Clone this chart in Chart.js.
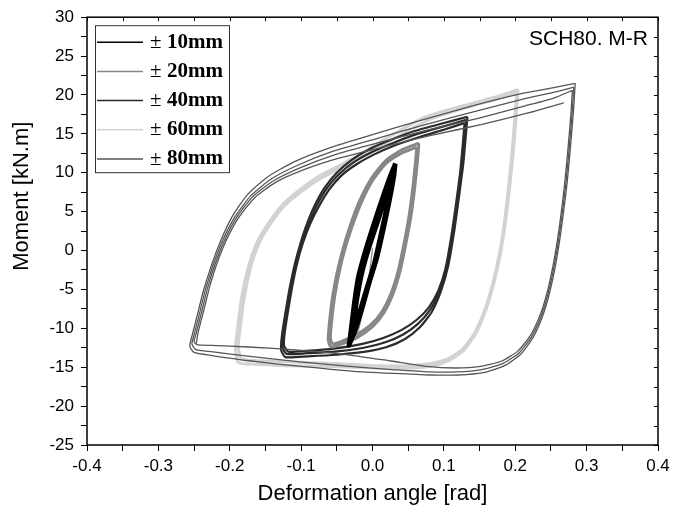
<!DOCTYPE html>
<html>
<head>
<meta charset="utf-8">
<script src="https://cdn.jsdelivr.net/npm/chart.js@4.4.1/dist/chart.umd.min.js"></script>
<style>
  html, body { margin: 0; padding: 0; background: #fff; }
  #wrap { width: 683px; height: 518px; }
</style>
</head>
<body>
<div id="wrap"><canvas id="chart" width="683" height="518"></canvas></div>
<script>
// Hysteresis loops, SCH80 moment vs rotation
const chartTitle = "SCH80. M-R";
const xTitle = "Deformation angle [rad]";
const yTitle = "Moment [kN.m]";
const amplitudes = ["10mm", "20mm", "40mm", "60mm", "80mm"];

// ±10mm (3 cycles) [rad, kN.m]
const c10a = [[0.032,11.2],[0.030,9.5],[0.024,6.5],[0.016,3.0],[0.006,-1.0],[-0.004,-4.0],[-0.014,-7.3],[-0.024,-10.2],[-0.031,-11.8],[-0.033,-12.2],[-0.031,-10.8],[-0.026,-7.0],[-0.020,-3.4],[-0.010,0.0],[0.002,3.5],[0.014,6.8],[0.024,9.4],[0.032,11.2]];
const c10b = [[0.030,10.6],[0.028,9.0],[0.022,6.0],[0.014,2.6],[0.004,-1.4],[-0.006,-4.4],[-0.016,-7.6],[-0.025,-10.4],[-0.031,-11.6],[-0.032,-11.9],[-0.029,-10.4],[-0.024,-6.7],[-0.017,-3.0],[-0.007,0.3],[0.005,3.7],[0.016,6.8],[0.025,9.2],[0.030,10.6]];
const c10c = [[0.028,10.0],[0.026,8.5],[0.020,5.6],[0.012,2.2],[0.002,-1.8],[-0.008,-4.8],[-0.018,-7.9],[-0.026,-10.5],[-0.030,-11.3],[-0.031,-11.5],[-0.027,-10.0],[-0.022,-6.4],[-0.014,-2.6],[-0.004,0.6],[0.008,3.9],[0.018,6.8],[0.025,8.8],[0.028,10.0]];

// ±20mm (first push + 2 cycles)
const c20start = [[0.000,0.3],[-0.005,-3.5],[-0.012,-7.0],[-0.020,-10.3],[-0.030,-11.6]];
const c20a = [[0.065,13.8],[0.063,11.5],[0.059,8.0],[0.054,4.5],[0.047,1.0],[0.039,-2.5],[0.029,-5.5],[0.016,-8.0],[0.000,-9.8],[-0.020,-11.1],[-0.040,-11.9],[-0.058,-12.4],[-0.062,-11.5],[-0.060,-9.0],[-0.056,-6.0],[-0.050,-3.0],[-0.042,0.0],[-0.032,3.0],[-0.019,6.2],[-0.002,9.2],[0.018,11.5],[0.040,12.9],[0.065,13.8]];
const c20b = [[0.062,13.3],[0.060,11.1],[0.056,7.7],[0.051,4.3],[0.044,0.8],[0.036,-2.6],[0.026,-5.5],[0.013,-7.9],[-0.003,-9.6],[-0.022,-10.8],[-0.041,-11.6],[-0.056,-12.0],[-0.059,-11.2],[-0.057,-8.8],[-0.053,-5.9],[-0.047,-2.9],[-0.039,0.1],[-0.029,3.0],[-0.016,6.1],[0.000,9.0],[0.019,11.2],[0.040,12.5],[0.062,13.3]];

// ±40mm (3 cycles)
const c40a = [[0.133,17.2],[0.131,15.0],[0.127,11.0],[0.121,6.8],[0.114,2.2],[0.106,-2.0],[0.096,-5.2],[0.083,-7.9],[0.066,-9.9],[0.045,-11.4],[0.020,-12.4],[-0.010,-13.0],[-0.050,-13.4],[-0.090,-13.6],[-0.122,-13.7],[-0.128,-12.8],[-0.127,-11.0],[-0.122,-8.0],[-0.116,-4.8],[-0.109,-1.8],[-0.101,0.9],[-0.092,3.4],[-0.081,5.8],[-0.067,8.1],[-0.050,10.0],[-0.030,11.6],[-0.005,13.0],[0.025,14.2],[0.060,15.4],[0.100,16.4],[0.133,17.2]];
const c40b = [[0.131,16.8],[0.129,14.6],[0.125,10.6],[0.119,6.4],[0.112,1.9],[0.104,-2.2],[0.094,-5.2],[0.081,-7.6],[0.064,-9.4],[0.043,-10.8],[0.018,-11.8],[-0.012,-12.5],[-0.052,-13.0],[-0.092,-13.2],[-0.120,-13.3],[-0.126,-12.5],[-0.125,-10.8],[-0.120,-7.8],[-0.114,-4.6],[-0.107,-1.6],[-0.099,1.0],[-0.089,3.5],[-0.078,5.8],[-0.064,8.0],[-0.047,9.8],[-0.027,11.3],[-0.002,12.6],[0.028,13.8],[0.063,15.0],[0.101,16.0],[0.131,16.8]];
const c40c = [[0.129,16.4],[0.127,14.2],[0.123,10.2],[0.117,6.0],[0.110,1.6],[0.102,-2.4],[0.092,-5.2],[0.079,-7.3],[0.062,-8.9],[0.041,-10.2],[0.016,-11.2],[-0.014,-12.0],[-0.054,-12.6],[-0.094,-12.9],[-0.118,-13.0],[-0.124,-12.2],[-0.123,-10.6],[-0.118,-7.6],[-0.112,-4.4],[-0.105,-1.4],[-0.097,1.1],[-0.087,3.5],[-0.075,5.7],[-0.061,7.8],[-0.044,9.6],[-0.024,11.0],[0.001,12.3],[0.031,13.5],[0.066,14.6],[0.102,15.6],[0.129,16.4]];

// ±60mm (2 cycles)
const c60a = [[0.204,20.7],[0.201,17.0],[0.197,12.5],[0.192,8.0],[0.186,3.5],[0.179,-0.5],[0.170,-4.2],[0.159,-7.6],[0.145,-10.6],[0.128,-12.8],[0.108,-14.1],[0.085,-14.8],[0.055,-15.1],[0.010,-15.1],[-0.060,-14.9],[-0.120,-14.8],[-0.170,-14.6],[-0.188,-14.4],[-0.192,-12.5],[-0.189,-10.0],[-0.185,-7.0],[-0.179,-4.0],[-0.171,-1.2],[-0.161,1.2],[-0.148,3.2],[-0.128,5.7],[-0.105,7.6],[-0.078,9.4],[-0.045,11.0],[-0.010,12.8],[0.030,15.0],[0.075,17.2],[0.130,18.7],[0.175,19.8],[0.204,20.7]];
const c60b = [[0.202,20.3],[0.199,16.6],[0.195,12.1],[0.190,7.6],[0.184,3.1],[0.177,-0.8],[0.168,-4.4],[0.157,-7.7],[0.143,-10.6],[0.126,-12.7],[0.106,-13.9],[0.083,-14.5],[0.053,-14.8],[0.008,-14.8],[-0.062,-14.5],[-0.122,-14.3],[-0.168,-14.1],[-0.184,-13.9],[-0.188,-12.2],[-0.185,-9.7],[-0.181,-6.8],[-0.175,-3.8],[-0.167,-1.0],[-0.157,1.3],[-0.144,3.3],[-0.124,5.7],[-0.101,7.5],[-0.074,9.2],[-0.041,10.8],[-0.006,12.5],[0.034,14.6],[0.079,16.8],[0.132,18.4],[0.176,19.5],[0.202,20.3]];

// ±80mm (3 cycles + last push)
const c80a = [[0.284,21.5],[0.282,18.5],[0.278,14.0],[0.273,9.0],[0.267,4.5],[0.260,0.0],[0.251,-4.3],[0.240,-8.0],[0.226,-11.0],[0.208,-13.3],[0.185,-14.8],[0.155,-15.7],[0.120,-16.0],[0.080,-16.0],[0.030,-15.8],[-0.030,-15.5],[-0.100,-14.9],[-0.170,-14.2],[-0.225,-13.5],[-0.250,-13.1],[-0.256,-12.3],[-0.253,-11.0],[-0.246,-8.5],[-0.237,-5.2],[-0.226,-2.0],[-0.213,1.2],[-0.197,4.3],[-0.176,7.1],[-0.148,9.4],[-0.110,11.4],[-0.060,13.2],[0.000,14.9],[0.070,16.8],[0.140,18.6],[0.210,20.2],[0.252,20.9],[0.284,21.5]];
const c80b = [[0.282,21.0],[0.280,18.0],[0.276,13.6],[0.271,8.7],[0.265,4.2],[0.258,-0.2],[0.249,-4.4],[0.238,-8.0],[0.224,-10.9],[0.206,-13.1],[0.183,-14.5],[0.153,-15.3],[0.118,-15.6],[0.078,-15.6],[0.028,-15.3],[-0.032,-14.9],[-0.102,-14.3],[-0.172,-13.6],[-0.226,-13.0],[-0.248,-12.7],[-0.253,-12.0],[-0.250,-10.8],[-0.243,-8.3],[-0.234,-5.0],[-0.223,-1.8],[-0.210,1.3],[-0.193,4.3],[-0.171,7.0],[-0.142,9.2],[-0.104,11.0],[-0.054,12.8],[0.006,14.4],[0.074,16.2],[0.144,17.9],[0.212,19.5],[0.252,20.3],[0.282,21.0]];
const c80c = [[0.280,20.6],[0.278,17.6],[0.274,13.2],[0.269,8.4],[0.263,3.9],[0.256,-0.4],[0.247,-4.5],[0.236,-8.0],[0.222,-10.8],[0.204,-12.9],[0.181,-14.2],[0.151,-14.9],[0.116,-15.1],[0.076,-14.9],[0.026,-14.2],[-0.034,-13.4],[-0.104,-12.8],[-0.174,-12.4],[-0.226,-12.2],[-0.246,-12.1],[-0.250,-11.7],[-0.247,-10.6],[-0.240,-8.1],[-0.231,-4.8],[-0.220,-1.6],[-0.207,1.4],[-0.190,4.3],[-0.168,6.9],[-0.138,9.0],[-0.100,10.7],[-0.050,12.4],[0.010,13.9],[0.078,15.5],[0.148,17.0],[0.214,18.6],[0.254,19.6],[0.280,20.6]];
const c80end = [[-0.247,-12.0],[-0.244,-10.4],[-0.237,-7.9],[-0.228,-4.6],[-0.217,-1.4],[-0.204,1.5],[-0.187,4.3],[-0.165,6.8],[-0.135,8.8],[-0.096,10.4],[-0.046,11.9],[0.014,13.3],[0.082,14.8],[0.152,16.2],[0.218,17.7],[0.268,19.0]];

const series = [
  { name: amplitudes[0], color: "#000000", width: 4.5, order: 1, cycles: [c10a, c10b, c10c] },
  { name: amplitudes[1], color: "#878787", width: 3,   order: 3, cycles: [c20a, c20b], thin: c20start },
  { name: amplitudes[2], color: "#2b2b2b", width: 2.2, order: 4, cycles: [c40a, c40b, c40c] },
  { name: amplitudes[3], color: "#d2d2d2", width: 3,   order: 5, cycles: [c60a, c60b] },
  { name: amplitudes[4], color: "#565656", width: 1.3, order: 2, cycles: [c80a, c80b, c80c, c80end] }
];

function makeSet(label, pts, color, width, order) {
  return {
    label,
    data: pts.map(p => ({ x: p[0], y: p[1] })),
    showLine: true,
    borderColor: color,
    borderWidth: width,
    pointRadius: 0,
    tension: 0.2,
    fill: false,
    order
  };
}

const datasets = [];
series.forEach(s => {
  s.cycles.forEach(c => datasets.push(makeSet("± " + s.name, c, s.color, s.width, s.order)));
  if (s.thin) datasets.push(makeSet("± " + s.name, s.thin, s.color, 1.2, s.order));
});

const FONT = '"Liberation Sans", Arial, sans-serif';

// frame, inward ticks on top/right, title, y title and the boxed legend
const decor = {
  id: "decor",
  afterDraw(chart) {
    const { ctx, chartArea: a, scales: { x, y } } = chart;
    ctx.save();
    ctx.strokeStyle = "#000";
    ctx.lineWidth = 1.5;
    ctx.strokeRect(a.left, a.top, a.right - a.left, a.bottom - a.top);

    ctx.lineWidth = 1;
    x.ticks.forEach(t => {
      const px = Math.round(x.getPixelForValue(t.value)) + 0.5;
      ctx.beginPath(); ctx.moveTo(px, a.top); ctx.lineTo(px, a.top + 4); ctx.stroke();
    });
    y.ticks.forEach(t => {
      const py = Math.round(y.getPixelForValue(t.value)) + 0.5;
      ctx.beginPath(); ctx.moveTo(a.right, py); ctx.lineTo(a.right - 4, py); ctx.stroke();
    });

    ctx.fillStyle = "#000";
    ctx.font = "21px " + FONT;
    ctx.textAlign = "right";
    ctx.textBaseline = "alphabetic";
    ctx.fillText(chartTitle, a.right - 10, a.top + 28);

    ctx.save();
    ctx.translate(a.left - 65, a.top + 179);
    ctx.rotate(-Math.PI / 2);
    ctx.textAlign = "center";
    ctx.textBaseline = "middle";
    ctx.font = "22px " + FONT;
    ctx.fillText(yTitle, 0, 0);
    ctx.restore();

    // legend
    const lx = a.left + 8, ly = a.top + 8;
    ctx.strokeStyle = "#333";
    ctx.lineWidth = 1;
    ctx.strokeRect(lx + 0.5, ly + 0.5, 134, 147);
    series.forEach((s, i) => {
      const ry = ly + 17 + i * 29.2;
      ctx.strokeStyle = s.color;
      ctx.lineWidth = 1.5;
      ctx.beginPath(); ctx.moveTo(lx + 2, ry); ctx.lineTo(lx + 48, ry); ctx.stroke();
      ctx.fillStyle = "#000";
      ctx.textAlign = "left";
      ctx.textBaseline = "middle";
      ctx.font = '21px "Liberation Serif", "Times New Roman", serif';
      ctx.fillText("±", lx + 55, ry);
      ctx.font = 'bold 21px "Liberation Serif", "Times New Roman", serif';
      ctx.fillText(s.name, lx + 72, ry);
    });
    ctx.restore();
  }
};

new Chart(document.getElementById("chart"), {
  type: "scatter",
  data: { datasets },
  options: {
    responsive: false,
    animation: false,
    devicePixelRatio: 1,
    layout: { padding: { left: 0, right: 25, top: 17, bottom: 0 } },
    plugins: { legend: { display: false }, tooltip: { enabled: false } },
    scales: {
      x: {
        type: "linear",
        min: -0.4,
        max: 0.4,
        afterFit: s => { s.height = 73; },
        border: { display: false },
        grid: { drawOnChartArea: false, tickLength: 6, tickColor: "#000", tickWidth: 1 },
        ticks: {
          stepSize: 0.05,
          autoSkip: false,
          maxRotation: 0,
          padding: 5,
          color: "#000",
          font: { family: FONT, size: 17 },
          callback: v => {
            if (Math.abs(Math.round(v * 20)) % 2 !== 0) return "";
            return Math.abs(v) < 1e-9 ? "0.0" : v.toFixed(1);
          }
        },
        title: {
          display: true,
          text: xTitle,
          color: "#000",
          font: { family: FONT, size: 22 },
          padding: { top: 0, bottom: 11 }
        }
      },
      y: {
        type: "linear",
        min: -25,
        max: 30,
        afterFit: s => { s.width = 87; },
        border: { display: false },
        grid: { drawOnChartArea: false, tickLength: 6, tickColor: "#000", tickWidth: 1 },
        ticks: {
          stepSize: 2.5,
          autoSkip: false,
          padding: 7,
          color: "#000",
          font: { family: FONT, size: 17 },
          callback: v => (Math.abs(Math.round(v * 2)) % 2 === 0 ? String(v) : "")
        }
      }
    }
  },
  plugins: [decor]
});
</script>
</body>
</html>
